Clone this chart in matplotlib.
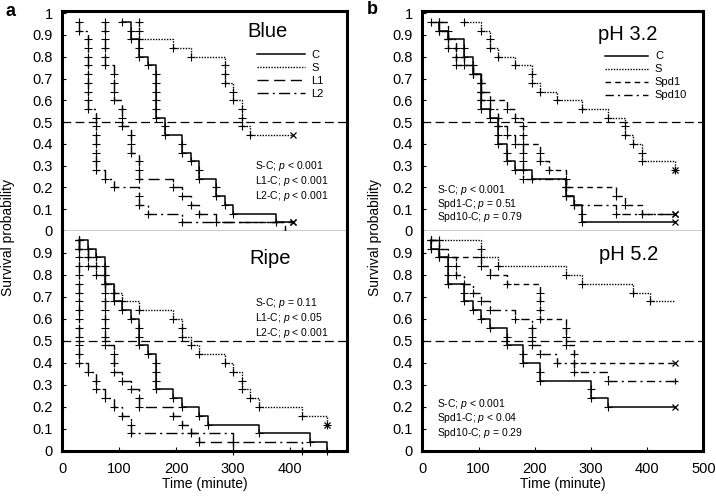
import matplotlib
matplotlib.use('Agg')
import matplotlib.pyplot as plt

plt.rcParams['font.family'] = ['Liberation Sans', 'DejaVu Sans']
plt.rcParams['mathtext.fontset'] = 'custom'
plt.rcParams['mathtext.it'] = 'Liberation Sans:italic'
plt.rcParams['mathtext.rm'] = 'Liberation Sans'

# ---- data: event times (minute) and survival after each event ----
# panel a, Blue
blue_c_t = [105, 120, 120, 135, 135, 150, 165, 165, 165, 165, 165, 165, 180, 180, 210, 210, 225, 240, 240, 270, 270, 285, 300, 375]
blue_c_s = [.96, .92, .88, .84, .80, .76, .72, .68, .64, .60, .56, .52, .48, .44, .40, .36, .32, .28, .24, .20, .16, .12, .08, .04]
blue_s_t = [135, 135, 135, 195, 225, 285, 285, 285, 300, 300, 315, 315, 315, 330]
blue_s_s = [.96, .92, .88, .84, .80, .76, .72, .68, .64, .60, .56, .52, .48, .44]
blue_l1_t = [75, 75, 75, 75, 75, 75, 90, 90, 90, 90, 105, 105, 105, 120, 120, 120, 135, 135, 135, 195, 210, 225, 240, 270, 390]
blue_l1_s = [.96, .92, .88, .84, .80, .76, .72, .68, .64, .60, .56, .52, .48, .44, .40, .36, .32, .28, .24, .20, .16, .12, .08, .04, 0]
blue_l2_t = [30, 30, 45, 45, 45, 45, 45, 45, 45, 45, 45, 60, 60, 60, 60, 60, 60, 60, 75, 90, 135, 135, 150, 210]
blue_l2_s = [.96, .92, .88, .84, .80, .76, .72, .68, .64, .60, .56, .52, .48, .44, .40, .36, .32, .28, .24, .20, .16, .12, .08, .04]
blue_end = 405

# panel a, Ripe
ripe_c_t = [30, 45, 60, 75, 75, 75, 90, 90, 105, 120, 135, 135, 135, 150, 165, 165, 165, 165, 195, 210, 240, 255, 345, 435, 465]
ripe_c_s = [.96, .92, .88, .84, .80, .76, .72, .68, .64, .60, .56, .52, .48, .44, .40, .36, .32, .28, .24, .20, .16, .12, .08, .04, 0]
ripe_s_t = [30, 30, 45, 60, 60, 75, 90, 105, 135, 195, 210, 210, 225, 240, 285, 300, 315, 315, 330, 345, 420, 465]
ripe_s_s = [.96, .92, .88, .84, .80, .76, .72, .68, .64, .60, .56, .52, .48, .44, .40, .36, .32, .28, .24, .20, .16, .12]
ripe_l1_t = [30, 30, 45, 45, 75, 75, 75, 75, 75, 75, 75, 75, 75, 90, 90, 90, 105, 120, 135, 135, 195, 210, 225, 240, 300]
ripe_l1_s = [.96, .92, .88, .84, .80, .76, .72, .68, .64, .60, .56, .52, .48, .44, .40, .36, .32, .28, .24, .20, .16, .12, .08, .04, 0]
ripe_l2_t = [30, 30, 30, 30, 30, 30, 30, 30, 30, 30, 30, 30, 30, 30, 30, 45, 60, 60, 75, 90, 105, 120, 120, 300, 420]
ripe_l2_s = [.96, .92, .88, .84, .80, .76, .72, .68, .64, .60, .56, .52, .48, .44, .40, .36, .32, .28, .24, .20, .16, .12, .08, .04, 0]
ripe_end = 465

# panel b, pH 3.2
ph3_c_t = [30, 30, 45, 75, 75, 90, 90, 105, 105, 105, 105, 120, 135, 135, 135, 150, 150, 165, 195, 255, 255, 270, 285, 285]
ph3_c_s = [.96, .92, .88, .84, .80, .76, .72, .68, .64, .60, .56, .52, .48, .44, .40, .36, .32, .28, .24, .20, .16, .12, .08, .04]
ph3_s_t = [75, 105, 120, 120, 135, 165, 195, 195, 210, 240, 285, 330, 360, 360, 375, 390, 390, 450]
ph3_s_s = [.96, .92, .88, .84, .80, .76, .72, .68, .64, .60, .56, .52, .48, .44, .40, .36, .32, .28]
ph3_spd1_t = [15, 30, 45, 45, 60, 60, 90, 105, 105, 105, 150, 165, 180, 180, 180, 210, 210, 225, 255, 255, 345, 360, 390]
ph3_spd1_s = [.96, .92, .88, .84, .80, .76, .72, .68, .64, .60, .56, .52, .48, .44, .40, .36, .32, .28, .24, .20, .16, .12, .08]
ph3_spd10_t = [30, 45, 45, 60, 60, 75, 90, 105, 105, 120, 120, 135, 135, 150, 165, 180, 180, 180, 180, 255, 255, 270, 345]
ph3_spd10_s = [.96, .92, .88, .84, .80, .76, .72, .68, .64, .60, .56, .52, .48, .44, .40, .36, .32, .28, .24, .20, .16, .12, .08]
ph_end = 450

# panel b, pH 5.2
ph5_c_t = [15, 15, 30, 45, 45, 45, 75, 75, 90, 105, 120, 150, 150, 180, 180, 210, 210, 300, 300, 330]
ph5_c_s = [.96, .92, .88, .84, .80, .76, .72, .68, .64, .60, .56, .52, .48, .44, .40, .36, .32, .28, .24, .20]
ph5_s_t = [30, 105, 105, 135, 255, 285, 375, 405]
ph5_s_s = [.96, .92, .88, .84, .80, .76, .72, .68]
ph5_spd1_t = [15, 30, 30, 105, 120, 150, 210, 210, 210, 210, 255, 255, 255, 270, 270]
ph5_spd1_s = [.96, .92, .88, .84, .80, .76, .72, .68, .64, .60, .56, .52, .48, .44, .40]
ph5_spd10_t = [15, 30, 45, 60, 60, 75, 90, 105, 120, 165, 195, 195, 195, 210, 240, 270, 330]
ph5_spd10_s = [.96, .92, .88, .84, .80, .76, .72, .68, .64, .60, .56, .52, .48, .44, .40, .36, .32]

labels_a = ['C', 'S', 'L1', 'L2']
labels_b = ['C', 'S', 'Spd1', 'Spd10']
pvals_blue = ['S-C; $\\mathit{p}$ < 0.001', 'L1-C; $\\mathit{p}$ < 0.001', 'L2-C; $\\mathit{p}$ < 0.001']
pvals_ripe = ['S-C; $\\mathit{p}$ = 0.11', 'L1-C; $\\mathit{p}$ < 0.05', 'L2-C; $\\mathit{p}$ < 0.001']
pvals_ph3 = ['S-C; $\\mathit{p}$ < 0.001', 'Spd1-C; $\\mathit{p}$ = 0.51', 'Spd10-C; $\\mathit{p}$ = 0.79']
pvals_ph5 = ['S-C; $\\mathit{p}$ < 0.001', 'Spd1-C; $\\mathit{p}$ < 0.04', 'Spd10-C; $\\mathit{p}$ = 0.29']

sty_a = ['-', (0, (1, 1)), (0, (8, 4)), (0, (8, 3, 1.5, 3))]
sty_b = ['-', (0, (1, 1)), (0, (4, 3)), (0, (6, 3, 1.5, 3))]


def curve(ax, t, s, end, end_mark, ls, label):
    xs = list(t)
    ys = list(s)
    if end is not None:
        xs.append(end)
        ys.append(s[-1])
    lw = 1.1 if ls == '-' else 1.0
    ax.plot(xs, ys, drawstyle='steps-post', color='k', ls=ls, lw=lw, label=label, clip_on=False)
    ax.plot(t, s, ls='none', marker='+', ms=5.5, mew=0.8, color='k', clip_on=False)
    if end_mark:
        ax.plot([end], [s[-1]], ls='none', marker=end_mark, ms=5, mew=0.9, color='k', clip_on=False)


def frame(ax, top, xt):
    ax.set_xlim(0, 500)
    if top:
        ax.set_ylim(0, 1.01)
        yv = [0, .1, .2, .3, .4, .5, .6, .7, .8, .9, 1]
    else:
        ax.set_ylim(0, 1.0)
        yv = [0, .1, .2, .3, .4, .5, .6, .7, .8, .9]
    ax.set_yticks(yv)
    ax.set_yticklabels([f'{v:g}' for v in yv])
    ax.tick_params(direction='in', length=3, width=0.8, labelsize=10.5)
    ax.tick_params(axis='y', pad=7)
    ax.tick_params(axis='x', pad=8)
    for sp in ax.spines.values():
        sp.set_linewidth(2.2)
    if top:
        ax.set_xticks([])
        ax.spines['bottom'].set_linewidth(1.0)
    else:
        ax.spines['top'].set_visible(False)
        ax.set_xticks(xt)
        ax.set_xlabel('Time (minute)', fontsize=10, labelpad=1)
    ax.axhline(0.5, color='k', lw=0.9, ls=(0, (7, 3.5)))


fig = plt.figure(figsize=(7.16, 5.01), dpi=100)
ax_a1 = fig.add_axes([0.087, 0.539, 0.398, 0.439])
ax_a2 = fig.add_axes([0.087, 0.100, 0.398, 0.439])
ax_b1 = fig.add_axes([0.5898, 0.539, 0.3925, 0.439])
ax_b2 = fig.add_axes([0.5898, 0.100, 0.3925, 0.439])

frame(ax_a1, True, None)
frame(ax_a2, False, [0, 100, 200, 300, 400])
frame(ax_b1, True, None)
frame(ax_b2, False, [0, 100, 200, 300, 400, 500])

# Blue
curve(ax_a1, blue_c_t, blue_c_s, blue_end, 'x', sty_a[0], labels_a[0])
curve(ax_a1, blue_s_t, blue_s_s, blue_end, 'x', sty_a[1], labels_a[1])
curve(ax_a1, blue_l1_t, blue_l1_s, None, None, sty_a[2], labels_a[2])
curve(ax_a1, blue_l2_t, blue_l2_s, blue_end, 'x', sty_a[3], labels_a[3])
# Ripe
curve(ax_a2, ripe_c_t, ripe_c_s, None, None, sty_a[0], labels_a[0])
curve(ax_a2, ripe_s_t, ripe_s_s, ripe_end, 'x', sty_a[1], labels_a[1])
curve(ax_a2, ripe_l1_t, ripe_l1_s, None, None, sty_a[2], labels_a[2])
curve(ax_a2, ripe_l2_t, ripe_l2_s, None, None, sty_a[3], labels_a[3])
# pH 3.2
curve(ax_b1, ph3_c_t, ph3_c_s, ph_end, 'x', sty_b[0], labels_b[0])
curve(ax_b1, ph3_s_t, ph3_s_s, ph_end, 'x', sty_b[1], labels_b[1])
curve(ax_b1, ph3_spd1_t, ph3_spd1_s, ph_end, 'x', sty_b[2], labels_b[2])
curve(ax_b1, ph3_spd10_t, ph3_spd10_s, ph_end, 'x', sty_b[3], labels_b[3])
# pH 5.2
curve(ax_b2, ph5_c_t, ph5_c_s, ph_end, 'x', sty_b[0], labels_b[0])
curve(ax_b2, ph5_s_t, ph5_s_s, ph_end, None, sty_b[1], labels_b[1])
curve(ax_b2, ph5_spd1_t, ph5_spd1_s, ph_end, 'x', sty_b[2], labels_b[2])
curve(ax_b2, ph5_spd10_t, ph5_spd10_s, ph_end, '+', sty_b[3], labels_b[3])

ax_a1.legend(loc='upper left', bbox_to_anchor=(0.683, 0.825), frameon=False, fontsize=8,
             handlelength=4.3, handletextpad=0.6, labelspacing=0.27, borderpad=0, borderaxespad=0)
ax_b1.legend(loc='upper left', bbox_to_anchor=(0.65, 0.816), frameon=False, fontsize=8,
             handlelength=3.9, handletextpad=0.6, labelspacing=0.27, borderpad=0, borderaxespad=0)

ax_a1.text(0.72, 0.905, 'Blue', transform=ax_a1.transAxes, ha='center', va='center', fontsize=14.5)
ax_a2.text(0.73, 0.877, 'Ripe', transform=ax_a2.transAxes, ha='center', va='center', fontsize=14.5)
ax_b1.text(0.731, 0.895, 'pH 3.2', transform=ax_b1.transAxes, ha='center', va='center', fontsize=14.5)
ax_b2.text(0.735, 0.895, 'pH 5.2', transform=ax_b2.transAxes, ha='center', va='center', fontsize=14.5)

for ax, lines, x0, ys in [(ax_a1, pvals_blue, 0.677, [0.295, 0.227, 0.159]),
                          (ax_a2, pvals_ripe, 0.677, [0.673, 0.605, 0.536]),
                          (ax_b1, pvals_ph3, 0.053, [0.186, 0.124, 0.062]),
                          (ax_b2, pvals_ph5, 0.053, [0.214, 0.150, 0.082])]:
    for txt, yy in zip(lines, ys):
        ax.text(x0, yy, txt, transform=ax.transAxes, ha='left', va='center', fontsize=7.5)

fig.text(8 / 716, 1 - 238 / 501, 'Survival probability', rotation=90, ha='center', va='center', fontsize=10)
fig.text(375 / 716, 1 - 238 / 501, 'Survival probability', rotation=90, ha='center', va='center', fontsize=10)
fig.text(10 / 716, 1 - 11 / 501, 'a', ha='center', va='center', fontsize=13, weight='bold')
fig.text(372 / 716, 1 - 10 / 501, 'b', ha='center', va='center', fontsize=13, weight='bold')

fig.savefig('out.png', dpi=100)
